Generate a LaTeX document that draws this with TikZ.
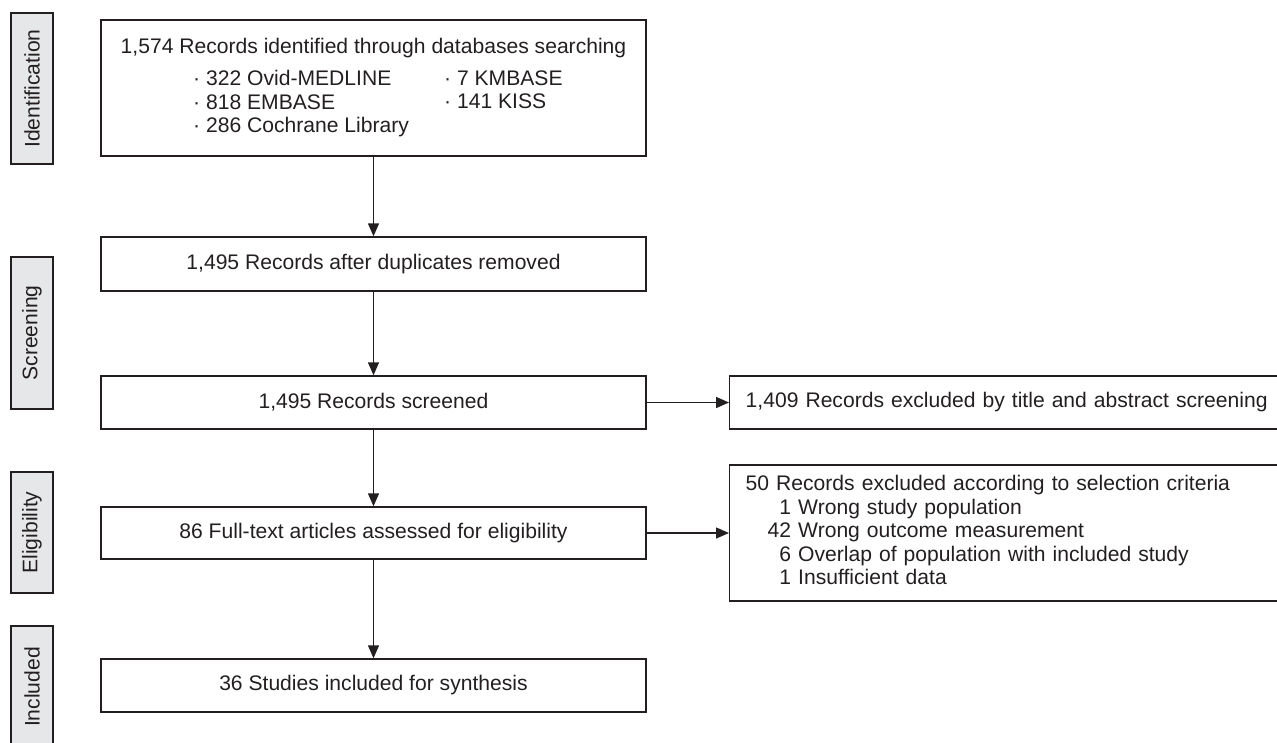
\documentclass[tikz,border=0pt]{standalone}
\usepackage{fontspec}
\setmainfont{Liberation Sans}
\usepackage{xcolor}
\usetikzlibrary{arrows.meta}
\definecolor{inkgray}{HTML}{231F20}
\definecolor{phasegray}{HTML}{E6E7E8}

\begin{document}
\begin{tikzpicture}[x=1pt,y=-1pt,every node/.style={font=\fontsize{21.1}{23.5}\selectfont,text=inkgray,inner sep=0pt},
  flowbox/.style={draw=inkgray,line width=1.4pt,minimum width=545pt},
  sidebox/.style={draw=inkgray,fill=phasegray,line width=1.4pt,rotate=90,minimum height=42pt},
  outbox/.style={draw=inkgray,line width=1.4pt,anchor=west,text width=529pt,inner xsep=16pt,align=left},
  flow/.style={draw=inkgray,line width=1.4pt,-{Triangle[length=13pt,width=11pt]}}]
    \useasboundingbox (0,0) rectangle (1277,742);

    \node[sidebox,minimum width=151pt] (identification) at (32,88.5) {Identification};
    \node[sidebox,minimum width=152pt] (screening) at (32,333) {Screening};
    \node[sidebox,minimum width=121pt] (eligibility) at (32,532.5) {Eligibility};
    \node[sidebox,minimum width=122pt] (included) at (32,687) {Included};

    \node[flowbox,minimum height=136pt] (found) at (373.5,88) {};
    \node (foundtitle) at (373.5,48) {1,574 Records identified through databases searching};
    \node[anchor=north west,align=left] (foundlistA) at (193,70.5) {· 322 Ovid-MEDLINE\\· 818 EMBASE\\· 286 Cochrane Library};
    \node[anchor=north west,align=left] (foundlistB) at (444,70.5) {· 7 KMBASE\\· 141 KISS};
    \node[flowbox,minimum height=54pt] (dedup) at (373.5,264) {1,495 Records after duplicates removed};
    \node[flowbox,minimum height=53pt] (screened) at (373.5,402.5) {1,495 Records screened};
    \node[flowbox,minimum height=52pt] (fulltext) at (373.5,533) {86 Full-text articles assessed for eligibility};
    \node[flowbox,minimum height=53pt] (synthesis) at (373.5,685.5) {36 Studies included for synthesis};

    \node[outbox,minimum height=53pt] (excludedA) at (729,402.5) {1,409 Records excluded by title and abstract screening};
    \node[outbox,minimum height=136pt] (excludedB) at (729,533) {\begin{tabular}{@{\hspace{22pt}}r@{ }l@{}}
        \multicolumn{2}{@{}l@{}}{50 Records excluded according to selection criteria}\\
        1 & Wrong study population\\
        42 & Wrong outcome measurement\\
        6 & Overlap of population with included study\\
        1 & Insufficient data
      \end{tabular}};

    \draw[flow] (found) -- (dedup);
    \draw[flow] (dedup) -- (screened);
    \draw[flow] (screened) -- (fulltext);
    \draw[flow] (fulltext) -- (synthesis);
    \draw[flow] (screened) -- (excludedA);
    \draw[flow] (fulltext) -- (excludedB);
\end{tikzpicture}
\end{document}
